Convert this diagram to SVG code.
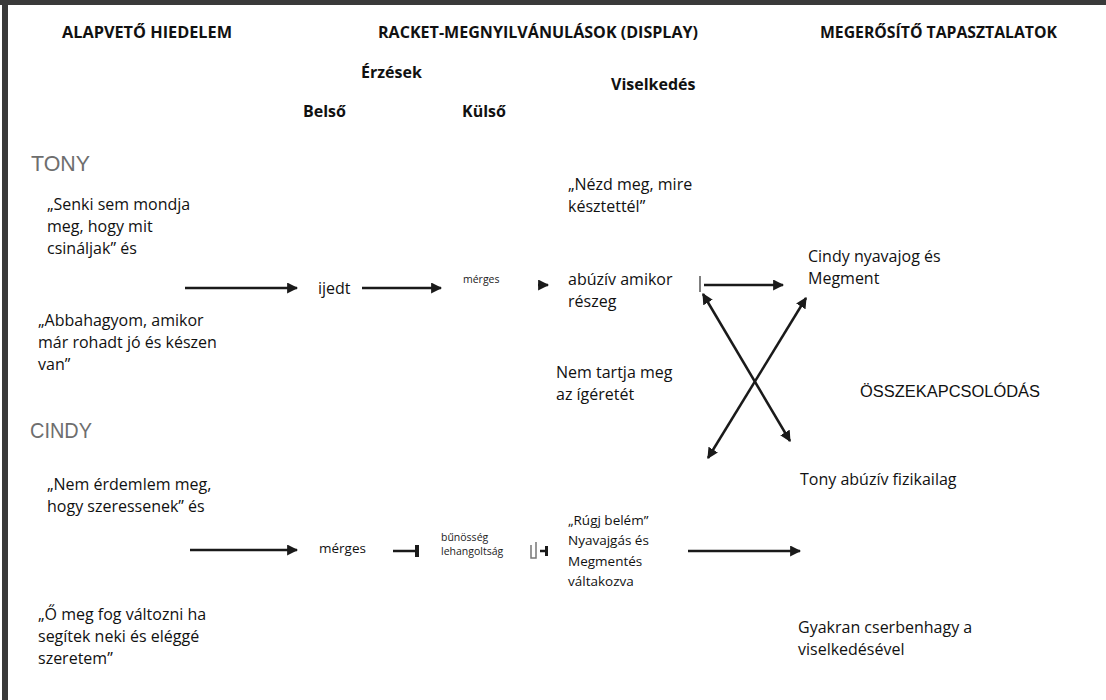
<svg xmlns="http://www.w3.org/2000/svg" width="1106" height="700" viewBox="0 0 1106 700">
<style>
  .h{font-family:"Open Sans","Liberation Sans",sans-serif;font-weight:bold;font-size:16px;fill:#111}
  .t{font-family:"Open Sans","Liberation Sans",sans-serif;font-size:16px;fill:#111}
  .s{font-family:"Open Sans","Liberation Sans",sans-serif;font-size:10.5px;fill:#222}
  .m{font-family:"Open Sans","Liberation Sans",sans-serif;font-size:13.5px;fill:#111}
  .n{font-family:"Liberation Sans",sans-serif;font-size:22px;fill:#6e6e6e}
  .a{font-family:"Liberation Sans",sans-serif;font-size:16px;fill:#111}
  .c{stroke:#1a1a1a;stroke-width:2.5;fill:none}
</style>
<defs>
  <marker id="ah" viewBox="0 0 10 10" refX="9" refY="5" markerWidth="4.4" markerHeight="4.4" orient="auto-start-reverse" markerUnits="strokeWidth">
    <path d="M0,0 L10,5 L0,10 z" fill="#1a1a1a"/>
  </marker>
</defs>
<rect x="0" y="0" width="1106" height="700" fill="#ffffff"/>
<g id="frame">
  <rect x="0" y="0" width="1106" height="5" fill="#3a3a3a"/>
  <rect x="2" y="0" width="6" height="700" fill="#3a3a3a"/>
</g>
<g id="headers">
  <text class="h" x="62" y="38" textLength="170" lengthAdjust="spacingAndGlyphs">ALAPVETŐ HIEDELEM</text>
  <text class="h" x="378" y="38" textLength="320" lengthAdjust="spacingAndGlyphs">RACKET-MEGNYILVÁNULÁSOK (DISPLAY)</text>
  <text class="h" x="820" y="38" textLength="237" lengthAdjust="spacingAndGlyphs">MEGERŐSÍTŐ TAPASZTALATOK</text>
  <text class="h" x="361" y="78">Érzések</text>
  <text class="h" x="611" y="90">Viselkedés</text>
  <text class="h" x="303" y="117">Belső</text>
  <text class="h" x="462" y="117">Külső</text>
</g>
<g id="tony-label"><text class="n" x="31" y="171" textLength="59" lengthAdjust="spacingAndGlyphs">TONY</text></g>
<g id="tony-belief1">
  <text class="t" x="47" y="210">„Senki sem mondja</text>
  <text class="t" x="47" y="232">meg, hogy mit</text>
  <text class="t" x="47" y="254">csináljak” és</text>
</g>
<g id="tony-belief2">
  <text class="t" x="38" y="326">„Abbahagyom, amikor</text>
  <text class="t" x="38" y="348">már rohadt jó és készen</text>
  <text class="t" x="38" y="370">van”</text>
</g>
<g id="tony-inner"><text class="t" x="318" y="294">ijedt</text></g>
<g id="tony-outer"><text class="s" x="463" y="283">mérges</text></g>
<g id="tony-behaviour">
  <text class="t" x="568" y="190">„Nézd meg, mire</text>
  <text class="t" x="568" y="212">késztettél”</text>
  <text class="t" x="568" y="285">abúzív amikor</text>
  <text class="t" x="568" y="307">részeg</text>
  <text class="t" x="556" y="378">Nem tartja meg</text>
  <text class="t" x="556" y="400">az ígéretét</text>
</g>
<g id="cindy-label"><text class="n" x="30" y="438" textLength="62" lengthAdjust="spacingAndGlyphs">CINDY</text></g>
<g id="cindy-belief1">
  <text class="t" x="47" y="490">„Nem érdemlem meg,</text>
  <text class="t" x="47" y="512">hogy szeressenek” és</text>
</g>
<g id="cindy-belief2">
  <text class="t" x="38" y="620">„Ő meg fog változni ha</text>
  <text class="t" x="38" y="642">segítek neki és eléggé</text>
  <text class="t" x="38" y="664">szeretem”</text>
</g>
<g id="cindy-inner"><text class="m" x="319" y="553" font-size="13px">mérges</text></g>
<g id="cindy-outer">
  <text class="s" x="441" y="541">bűnösség</text>
  <text class="s" x="441" y="555">lehangoltság</text>
</g>
<g id="cindy-behaviour">
  <text class="m" x="568" y="525">„Rúgj belém”</text>
  <text class="m" x="568" y="545">Nyavajgás és</text>
  <text class="m" x="568" y="566">Megmentés</text>
  <text class="m" x="568" y="586">váltakozva</text>
</g>
<g id="confirm-1">
  <text class="t" x="808" y="262">Cindy nyavajog és</text>
  <text class="t" x="808" y="284">Megment</text>
</g>
<g id="confirm-link"><text class="a" x="860" y="397" textLength="180" lengthAdjust="spacingAndGlyphs">ÖSSZEKAPCSOLÓDÁS</text></g>
<g id="confirm-2"><text class="t" x="800" y="485">Tony abúzív fizikailag</text></g>
<g id="confirm-3">
  <text class="t" x="798" y="633">Gyakran cserbenhagy a</text>
  <text class="t" x="798" y="655">viselkedésével</text>
</g>
<g id="connectors">
  <line class="c" x1="185" y1="288" x2="297" y2="288" marker-end="url(#ah)"/>
  <line class="c" x1="362" y1="288" x2="441" y2="288" marker-end="url(#ah)"/>
  <line class="c" x1="538" y1="285" x2="548" y2="285" marker-end="url(#ah)"/>
  <line x1="700" y1="276" x2="700" y2="292" stroke="#555" stroke-width="1.5"/>
  <line class="c" x1="704" y1="285" x2="783" y2="285" marker-end="url(#ah)"/>
  <line class="c" x1="703" y1="294" x2="790" y2="441" marker-start="url(#ah)" marker-end="url(#ah)"/>
  <line class="c" x1="708" y1="458" x2="806" y2="298" marker-start="url(#ah)" marker-end="url(#ah)"/>
  <line class="c" x1="190" y1="550" x2="297" y2="550" marker-end="url(#ah)"/>
  <line class="c" x1="393" y1="551" x2="416" y2="551"/>
  <rect x="415" y="545" width="4" height="12" fill="#1a1a1a"/>
  <path d="M531,545 v13 h5 v-16" stroke="#777" stroke-width="1.5" fill="none"/>
  <line class="c" x1="540" y1="551" x2="546" y2="551"/>
  <rect x="545" y="546" width="3" height="10" fill="#1a1a1a"/>
  <line class="c" x1="688" y1="551" x2="800" y2="551" marker-end="url(#ah)"/>
</g>
</svg>
